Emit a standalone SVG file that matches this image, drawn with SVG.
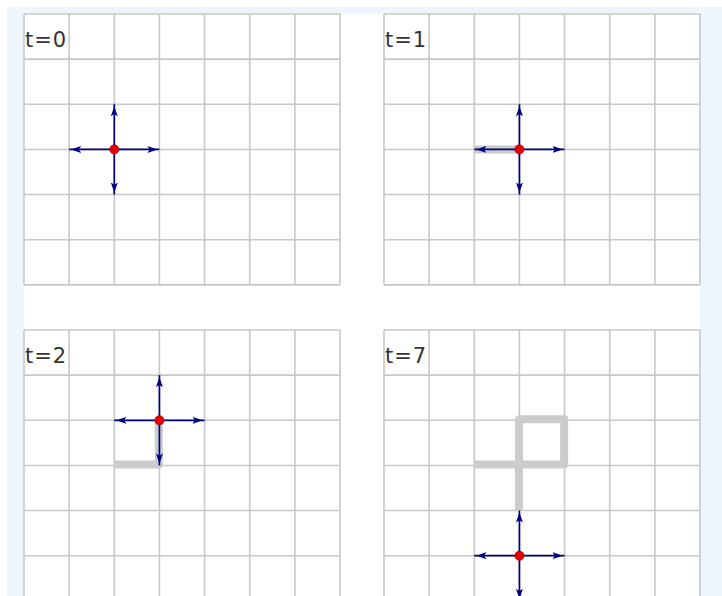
<svg xmlns="http://www.w3.org/2000/svg" xmlns:xlink="http://www.w3.org/1999/xlink" width="722" height="596" viewBox="0 0 722 596">
  <style>
    .grid { fill: none; stroke: #c8c8c8; stroke-width: 1.6; }
    .label { font-family: "DejaVu Sans", sans-serif; font-size: 21px; fill: #333333; letter-spacing: 1px; }
    .trail { fill: none; stroke: #cccccc; stroke-width: 8; stroke-linejoin: round; stroke-linecap: butt; }
    .arrow { fill: none; stroke: #000080; stroke-width: 1.7; marker-end: url(#head); }
    .dot { fill: #e80000; stroke: #b00000; stroke-width: 1; }
  </style>
  <defs>
    <marker id="head" markerUnits="userSpaceOnUse" viewBox="0 0 13 9" markerWidth="13" markerHeight="9" refX="12" refY="4.5" orient="auto">
      <path d="M0,1 L10,4.5 L0,8 L2.2,4.5 Z" fill="#000080"/>
    </marker>
    <path id="grid" class="grid" d="M0,0 V270.86 M45.14,0 V270.86 M90.29,0 V270.86 M135.43,0 V270.86 M180.57,0 V270.86 M225.71,0 V270.86 M270.86,0 V270.86 M316,0 V270.86 M0,0 H316 M0,45.14 H316 M0,90.29 H316 M0,135.43 H316 M0,180.57 H316 M0,225.71 H316 M0,270.86 H316"/>
  </defs>

  <rect x="7" y="7" width="715" height="589" fill="#eef5fd"/>
  <rect x="24" y="14" width="676" height="582" fill="#ffffff"/>

  <g id="panel-t0">
    <use xlink:href="#grid" href="#grid" x="24" y="14"/>
    <text class="label" x="25" y="47">t=0</text>
  </g>
  <g id="panel-t1">
    <use xlink:href="#grid" href="#grid" x="384" y="14"/>
    <text class="label" x="385" y="47">t=1</text>
    <path class="trail" d="M474.29,149.43 H519.43"/>
  </g>
  <g id="panel-t2">
    <use xlink:href="#grid" href="#grid" x="24" y="330"/>
    <text class="label" x="25" y="363">t=2</text>
    <path class="trail" d="M114.29,464.5 H158.9 V420.29"/>
  </g>
  <g id="panel-t7">
    <use xlink:href="#grid" href="#grid" x="384" y="330"/>
    <text class="label" x="385" y="363">t=7</text>
    <path class="trail" d="M474.29,464.5 H519 V419.3 H564.2 V464.5 H519 V510.57"/>
  </g>

  <g id="connectors">
    <path class="arrow" d="M114.29,149.43 V104.29"/>
    <path class="arrow" d="M114.29,149.43 V194.57"/>
    <path class="arrow" d="M114.29,149.43 H69.14"/>
    <path class="arrow" d="M114.29,149.43 H159.43"/>

    <path class="arrow" d="M519.43,149.43 V104.29"/>
    <path class="arrow" d="M519.43,149.43 V194.57"/>
    <path class="arrow" d="M519.43,149.43 H474.29"/>
    <path class="arrow" d="M519.43,149.43 H564.57"/>

    <path class="arrow" d="M159.43,420.29 V375.14"/>
    <path class="arrow" d="M159.43,420.29 V465.43"/>
    <path class="arrow" d="M159.43,420.29 H114.29"/>
    <path class="arrow" d="M159.43,420.29 H204.57"/>

    <path class="arrow" d="M519.43,555.71 V510.57"/>
    <path class="arrow" d="M519.43,555.71 V600.86"/>
    <path class="arrow" d="M519.43,555.71 H474.29"/>
    <path class="arrow" d="M519.43,555.71 H564.57"/>
  </g>

  <g id="agent-t0"><circle class="dot" cx="114.29" cy="149.43" r="4.5"/></g>
  <g id="agent-t1"><circle class="dot" cx="519.43" cy="149.43" r="4.5"/></g>
  <g id="agent-t2"><circle class="dot" cx="159.43" cy="420.29" r="4.5"/></g>
  <g id="agent-t7"><circle class="dot" cx="519.43" cy="555.71" r="4.5"/></g>
</svg>
